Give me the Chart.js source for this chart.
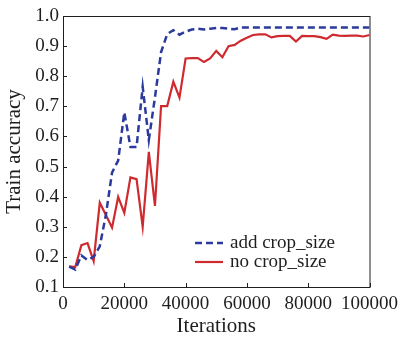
<!DOCTYPE html>
<html>
<head>
<meta charset="utf-8">
<script src="https://cdn.jsdelivr.net/npm/chart.js@4.4.1/dist/chart.umd.min.js"></script>
<style>
  html, body { margin: 0; padding: 0; background: #fff; }
  #wrap { width: 404px; height: 341px; }
</style>
</head>
<body>
<div id="wrap"><canvas id="acc"></canvas></div>
<script>
'use strict';

// ── Data ──────────────────────────────────────────────────────
const iterations = [
  2000, 4000, 6000, 8000, 10000, 12000, 14000, 16000, 18000, 20000,
  22000, 24000, 26000, 28000, 30000, 32000, 34000, 36000, 38000, 40000,
  42000, 44000, 46000, 48000, 50000, 52000, 54000, 56000, 58000, 60000,
  62000, 64000, 66000, 68000, 70000, 72000, 74000, 76000, 78000, 80000,
  82000, 84000, 86000, 88000, 90000, 92000, 94000, 96000, 98000, 100000
];

const addCropSize = [
  0.168, 0.158, 0.205, 0.190, 0.200, 0.235, 0.340, 0.480, 0.520, 0.680,
  0.565, 0.565, 0.765, 0.588, 0.730, 0.880, 0.940, 0.953, 0.938, 0.948,
  0.955, 0.958, 0.955, 0.958, 0.960, 0.960, 0.958, 0.956, 0.962, 0.962,
  0.962, 0.962, 0.962, 0.962, 0.962, 0.962, 0.962, 0.962, 0.962, 0.962,
  0.962, 0.962, 0.962, 0.962, 0.962, 0.962, 0.962, 0.962, 0.962, 0.962
];

const noCropSize = [
  0.169, 0.166, 0.239, 0.246, 0.186, 0.380, 0.339, 0.297, 0.399, 0.346,
  0.464, 0.458, 0.300, 0.549, 0.369, 0.701, 0.701, 0.782, 0.729, 0.859,
  0.860, 0.860, 0.847, 0.859, 0.884, 0.863, 0.900, 0.904, 0.918, 0.928,
  0.937, 0.939, 0.939, 0.929, 0.933, 0.934, 0.934, 0.915, 0.934, 0.933,
  0.933, 0.930, 0.924, 0.938, 0.935, 0.934, 0.935, 0.935, 0.932, 0.937
];

const seriesNames = ['add crop_size', 'no crop_size'];
const xTicks = [0, 20000, 40000, 60000, 80000, 100000];
const yTicks = [0.1, 0.2, 0.3, 0.4, 0.5, 0.6, 0.7, 0.8, 0.9, 1.0];

// ── Style ─────────────────────────────────────────────────────
const FONT = '"Liberation Serif", "DejaVu Serif", serif';
const INK  = '#1e1e1e';
const BLUE = '#2b3a9c';
const RED  = '#cf2a2e';

const toPoints = ys => iterations.map((x, i) => ({ x, y: ys[i] }));

// frame, inward ticks and the in-plot legend
const framePlugin = {
  id: 'frame',
  afterDraw(chart) {
    const { ctx, chartArea: a, scales } = chart;
    ctx.save();
    ctx.strokeStyle = INK;
    ctx.lineWidth = 1;
    ctx.strokeRect(a.left + 0.5, a.top + 0.5, a.right - a.left, a.bottom - a.top);

    ctx.beginPath();
    xTicks.forEach(v => {
      const px = Math.round(scales.x.getPixelForValue(v)) + 0.5;
      ctx.moveTo(px, a.bottom);
      ctx.lineTo(px, a.bottom - 4);
    });
    yTicks.forEach(v => {
      const py = Math.round(scales.y.getPixelForValue(v)) + 0.5;
      ctx.moveTo(a.left, py);
      ctx.lineTo(a.left + 4, py);
    });
    ctx.stroke();

    // legend
    const lx = a.left + 132, ly = a.top + 227, rowH = 19;
    chart.data.datasets.forEach((ds, i) => {
      const y = ly + i * rowH;
      ctx.strokeStyle = ds.borderColor;
      ctx.lineWidth = ds.borderWidth;
      ctx.setLineDash(ds.borderDash || []);
      ctx.beginPath();
      ctx.moveTo(lx, y);
      ctx.lineTo(lx + 28, y);
      ctx.stroke();
      ctx.setLineDash([]);
      ctx.fillStyle = INK;
      ctx.font = '19px ' + FONT;
      ctx.textBaseline = 'middle';
      ctx.fillText(ds.label, lx + 35, y);
    });
    ctx.restore();
  }
};

new Chart(document.getElementById('acc').getContext('2d'), {
  type: 'line',
  data: {
    datasets: [
      {
        label: seriesNames[0],
        data: toPoints(addCropSize),
        borderColor: BLUE,
        borderWidth: 2.5,
        borderDash: [7, 4],
        pointRadius: 0,
        tension: 0,
        fill: false,
      },
      {
        label: seriesNames[1],
        data: toPoints(noCropSize),
        borderColor: RED,
        borderWidth: 2.2,
        pointRadius: 0,
        tension: 0,
        fill: false,
      }
    ]
  },
  options: {
    responsive: true,
    maintainAspectRatio: false,
    animation: false,
    layout: { padding: { left: 0, right: 30, top: 16, bottom: 2 } },
    plugins: { legend: { display: false }, tooltip: { enabled: false } },
    scales: {
      x: {
        type: 'linear',
        min: 0,
        max: 100000,
        afterBuildTicks: s => { s.ticks = xTicks.map(v => ({ value: v })); },
        afterFit: s => { s.height = 52; },
        grid: { display: false, drawTicks: false },
        border: { display: false },
        ticks: {
          color: INK,
          padding: 6,
          maxRotation: 0,
          font: { family: FONT, size: 19 },
          callback: v => String(v),
        },
        title: {
          display: true,
          text: 'Iterations',
          color: INK,
          padding: { top: 0, bottom: 0 },
          font: { family: FONT, size: 21 },
        }
      },
      y: {
        min: 0.1,
        max: 1.0,
        afterBuildTicks: s => { s.ticks = yTicks.map(v => ({ value: v })); },
        afterFit: s => { s.width = 63; },
        grid: { display: false, drawTicks: false },
        border: { display: false },
        ticks: {
          color: INK,
          padding: 4,
          font: { family: FONT, size: 19 },
          callback: v => v.toFixed(1),
        },
        title: {
          display: true,
          text: 'Train accuracy',
          color: INK,
          padding: { top: 2, bottom: 0 },
          font: { family: FONT, size: 21 },
        }
      }
    }
  },
  plugins: [framePlugin]
});
</script>
</body>
</html>
